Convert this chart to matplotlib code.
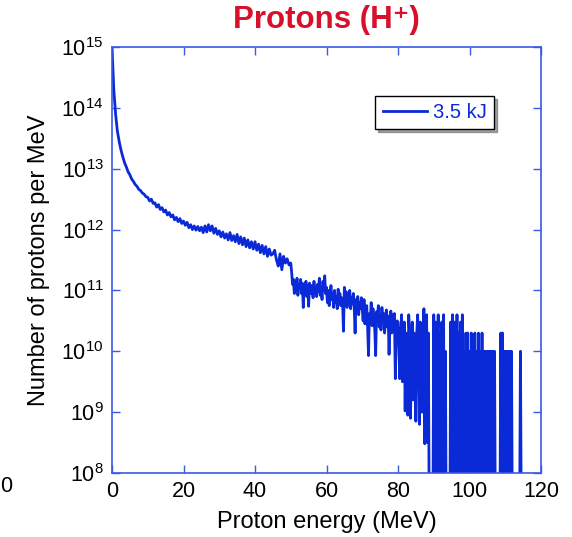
import numpy as np
import matplotlib.pyplot as plt

plt.rcParams['font.family'] = ['Liberation Sans', 'DejaVu Sans']

# log10 of protons per MeV (7.0 = empty bin, falls below the axis)
# 0 - 49.5 MeV in 0.5 MeV bins
low_bin = 0.5
log_counts_low = [
    # 0 - 9.5 MeV
    15.0, 14.3, 13.9, 13.62, 13.45, 13.31, 13.2, 13.1, 13.03, 12.95,
    12.9, 12.83, 12.79, 12.74, 12.71, 12.66, 12.64, 12.6, 12.58, 12.54,
    # 10 - 19.5
    12.53, 12.47, 12.5, 12.43, 12.44, 12.37, 12.41, 12.33, 12.36, 12.29,
    12.32, 12.24, 12.28, 12.21, 12.24, 12.16, 12.2, 12.13, 12.18, 12.1,
    # 20 - 29.5
    12.14, 12.07, 12.12, 12.03, 12.08, 12.0, 12.06, 11.99, 12.05, 11.98,
    12.04, 11.95, 12.06, 11.96, 12.08, 11.98, 12.06, 11.94, 12.02, 11.92,
    # 30 - 39.5
    11.98, 11.88, 11.96, 11.86, 11.93, 11.83, 11.95, 11.82, 11.9, 11.8,
    11.92, 11.77, 11.88, 11.75, 11.86, 11.72, 11.83, 11.7, 11.8, 11.68,
    # 40 - 49.5
    11.8, 11.66, 11.76, 11.62, 11.74, 11.6, 11.72, 11.56, 11.68, 11.58,
    11.6, 11.66, 11.5, 11.4, 11.6, 11.34, 11.56, 11.45, 11.52, 11.42,
]

# 50 - 114.75 MeV in 0.25 MeV bins
high_start = 50.0
high_bin = 0.25
log_counts_high = [
    # 50 - 54.75
    11.45, 11.3, 11.1, 11.18, 10.95, 11.15, 11.0, 11.2, 10.92, 11.1,
    11.05, 11.18, 10.95, 11.12, 10.72, 11.1, 10.98, 11.15, 10.9, 11.08,
    # 55 - 59.75
    10.74, 11.12, 10.95, 11.08, 11.0, 10.88, 11.15, 10.95, 11.05, 10.9,
    11.1, 10.98, 11.2, 10.92, 11.05, 10.85, 11.15, 11.0, 11.24, 10.95,
    # 60 - 64.75
    11.05, 10.8, 11.0, 10.75, 10.92, 11.08, 10.85, 10.95, 10.72, 11.0,
    10.8, 10.9, 10.7, 11.02, 10.85, 10.95, 10.75, 10.88, 10.8, 10.33,
    # 65 - 69.75
    11.05, 10.85, 10.98, 10.72, 10.92, 10.8, 11.0, 10.7, 10.88, 10.78,
    10.95, 10.72, 10.3, 10.85, 10.65, 10.9, 10.6, 10.8, 10.7, 10.88,
    # 70 - 74.75
    10.7, 10.5, 10.85, 10.45, 10.6, 10.75, 10.4, 9.93, 10.62, 10.5,
    10.8, 10.42, 10.7, 10.55, 10.35, 9.93, 10.65, 10.48, 10.75, 10.4,
    # 75 - 79.75
    10.6, 10.35, 10.72, 10.5, 10.62, 10.3, 10.55, 10.68, 10.4, 10.58,
    9.95, 10.5, 10.66, 10.3, 10.6, 10.45, 10.62, 9.55, 10.4, 10.5,
    # 80 - 84.75
    10.48, 10.0, 9.55, 10.3, 10.6, 9.5, 10.0, 10.48, 9.02, 10.3,
    10.0, 8.95, 10.6, 10.3, 8.9, 10.0, 10.48, 9.2, 10.3, 10.0,
    # 85 - 89.75
    8.85, 10.3, 10.6, 10.0, 8.8, 10.48, 10.0, 9.0, 10.3, 10.7,
    8.48, 10.0, 10.6, 8.5, 10.3, 7.0, 7.0, 7.0, 7.0, 7.0,
    # 90 - 94.75
    10.6, 7.0, 10.48, 7.0, 10.0, 10.6, 7.0, 10.3, 7.0, 10.48,
    7.0, 10.6, 7.0, 10.0, 7.0, 7.0, 7.0, 7.0, 7.0, 10.48,
    # 95 - 99.75
    7.0, 10.6, 7.0, 10.48, 10.0, 7.0, 10.6, 7.0, 10.3, 7.0,
    10.48, 7.0, 10.6, 7.0, 10.0, 7.0, 10.3, 7.0, 10.3, 7.0,
    # 100 - 104.75
    10.0, 7.0, 10.3, 7.0, 10.0, 7.0, 10.3, 7.0, 10.0, 7.0,
    10.3, 7.0, 10.0, 7.0, 10.3, 7.0, 10.0, 7.0, 10.0, 7.0,
    # 105 - 109.75
    10.0, 7.0, 10.0, 7.0, 10.0, 7.0, 10.0, 7.0, 10.0, 7.0,
    7.0, 7.0, 7.0, 7.0, 7.0, 10.3, 7.0, 10.3, 7.0, 10.0,
    # 110 - 114.75
    7.0, 10.0, 7.0, 10.0, 7.0, 10.0, 7.0, 10.0, 7.0, 7.0,
    7.0, 7.0, 7.0, 7.0, 7.0, 7.0, 7.0, 10.0, 7.0, 7.0,
]

energy = np.concatenate([
    np.arange(len(log_counts_low)) * low_bin,
    high_start + np.arange(len(log_counts_high)) * high_bin,
])
counts = 10.0 ** np.array(log_counts_low + log_counts_high)

line_blue = '#0a2ad8'
axis_blue = '#3a5ae6'

fig = plt.figure(figsize=(5.72, 5.37), dpi=100)
ax = fig.add_axes([112 / 572, 1 - 473 / 537, 429 / 572, 426 / 537])

ax.semilogy(energy, counts, color=line_blue, linewidth=2.0, label='3.5 kJ')

ax.set_xlim(0, 120)
ax.set_ylim(1e8, 1e15)
ax.set_xticks([0, 20, 40, 60, 80, 100, 120])
ax.set_yticks([10.0 ** k for k in range(8, 16)])
ax.minorticks_off()
ax.tick_params(direction='in', length=6, width=1, color=axis_blue,
               top=True, right=True, labelsize=15.5, pad=6)
for s in ax.spines.values():
    s.set_color(axis_blue)
    s.set_linewidth(1.2)

ax.set_xlabel('Proton energy (MeV)', fontsize=17, labelpad=6)
ax.set_ylabel('Number of protons per MeV', fontsize=17, labelpad=8)
ax.set_title('Protons (H\u207a)', color='#d8102c', fontsize=22.5,
             fontweight='bold', pad=14)

leg = ax.legend(loc='upper right', bbox_to_anchor=(0.89, 0.885), fontsize=14.5,
                frameon=True, fancybox=False, shadow=True, labelcolor=line_blue,
                handlelength=2.2, handletextpad=0.3, borderpad=0.35,
                borderaxespad=0)
leg.get_frame().set_edgecolor('black')
leg.get_frame().set_linewidth(1.0)

fig.text(0.0, 1 - 487 / 537, '0', fontsize=15.5, va='center', ha='left')

fig.savefig('out.png', dpi=100)
